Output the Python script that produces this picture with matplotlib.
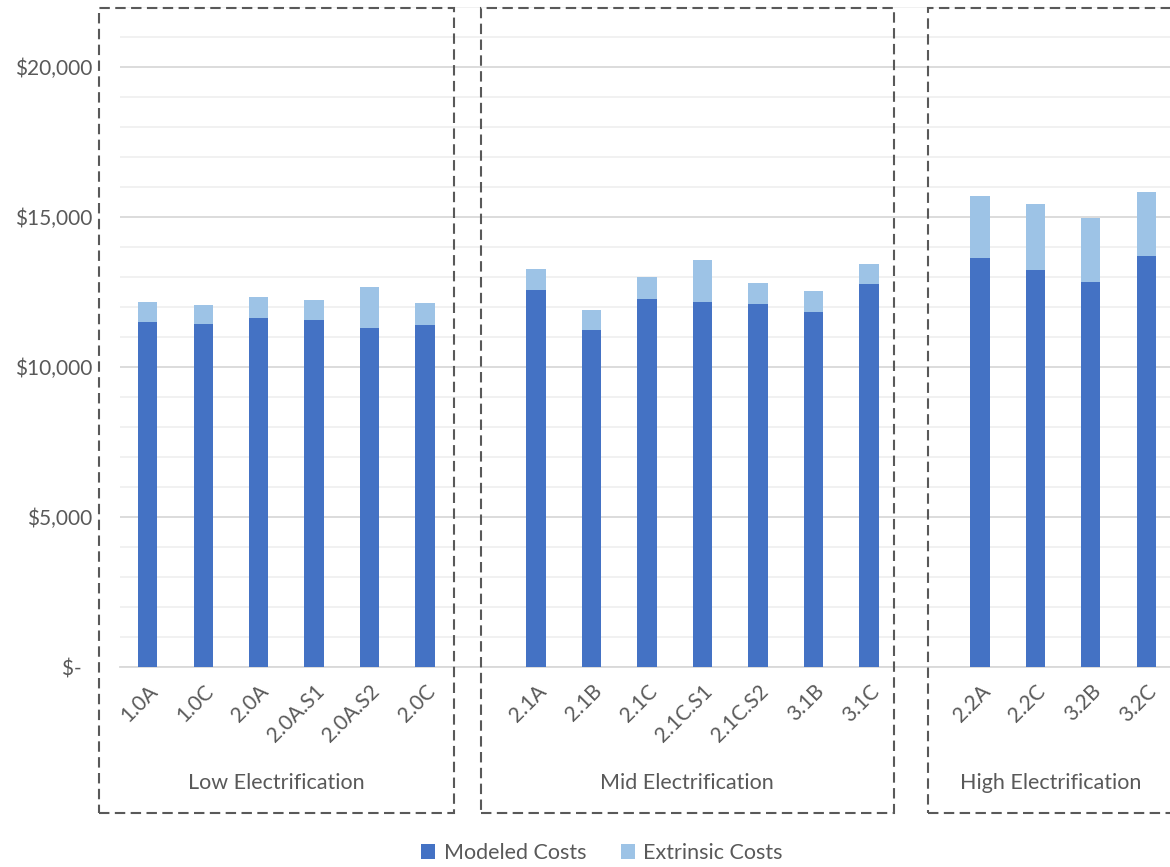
import numpy as np
import matplotlib.pyplot as plt
from matplotlib.patches import Rectangle
from matplotlib.ticker import MultipleLocator, FuncFormatter

# scenario data (per household cost)
low_names = ['1.0A', '1.0C', '2.0A', '2.0A.S1', '2.0A.S2', '2.0C']
low_modeled = [11500, 11430, 11630, 11570, 11300, 11400]
low_total = [12170, 12070, 12330, 12230, 12670, 12130]

mid_names = ['2.1A', '2.1B', '2.1C', '2.1C.S1', '2.1C.S2', '3.1B', '3.1C']
mid_modeled = [12570, 11230, 12270, 12170, 12100, 11830, 12770]
mid_total = [13270, 11900, 13000, 13570, 12800, 12530, 13430]

high_names = ['2.2A', '2.2C', '3.2B', '3.2C']
high_modeled = [13630, 13230, 12830, 13700]
high_total = [15700, 15430, 14970, 15830]

group_titles = ['Low Electrification', 'Mid Electrification', 'High Electrification']

plt.rcParams['font.family'] = ['Lato', 'DejaVu Sans']
txt = '#595959'

names = low_names + mid_names + high_names
modeled = np.array(low_modeled + mid_modeled + high_modeled)
extrinsic = np.array(low_total + mid_total + high_total) - modeled
# one empty slot between the groups
x = np.concatenate([np.arange(6), np.arange(7, 14), np.arange(15, 19)])

W, H = 1170, 867
fig = plt.figure(figsize=(W / 100, H / 100), dpi=100)
ax = fig.add_axes([120 / W, 1 - 667 / H, (1174 - 120) / W, (667 - 7) / H])

ax.bar(x, modeled, 0.35, color='#4472C4', label='Modeled Costs', zorder=3)
ax.bar(x, extrinsic, 0.35, bottom=modeled, color='#9DC3E6', label='Extrinsic Costs', zorder=3)

ax.set_xlim(-0.5, 18.5)
ax.set_ylim(0, 22000)
ax.yaxis.set_major_locator(MultipleLocator(5000))
ax.yaxis.set_minor_locator(MultipleLocator(1000))
ax.yaxis.set_major_formatter(FuncFormatter(lambda v, p: '$-  ' if v == 0 else f'${v:,.0f}'))
ax.grid(axis='y', which='major', color='#D9D9D9', lw=1.3, zorder=0)
ax.grid(axis='y', which='minor', color='#EDEDED', lw=1.1, zorder=0)
ax.set_axisbelow(True)
for s in ['top', 'right', 'left']:
    ax.spines[s].set_visible(False)
ax.spines['bottom'].set_color('#D9D9D9')
ax.spines['bottom'].set_linewidth(1.3)

ax.set_xticks(x)
ax.set_xticklabels(names, rotation=45, ha='right', rotation_mode='anchor')
ax.tick_params(axis='x', length=0, pad=10, labelsize=15, labelcolor=txt)
ax.tick_params(axis='y', which='both', length=0, pad=20, labelsize=15, labelcolor=txt)

# dashed group boxes and titles (pixel positions of the original)
boxes = [(99, 454), (481, 894), (928, 1180)]
title_x = [276, 687, 1051]
for (x0, x1), t, tx in zip(boxes, group_titles, title_x):
    fig.patches.append(Rectangle((x0 / W, 1 - 813 / H), (x1 - x0) / W, (813 - 8) / H,
                                 transform=fig.transFigure, fill=False, ec='#595959',
                                 lw=1.5, ls=(0, (5, 2.6))))
    fig.text(tx / W, 1 - 783 / H, t, ha='center', va='center', fontsize=15.5, color=txt)

fig.legend(loc='center', bbox_to_anchor=(602 / W, 1 - 853 / H), ncol=2, frameon=False,
           fontsize=15.5, labelcolor=txt, handlelength=0.65, handleheight=0.65,
           handletextpad=0.4, columnspacing=1.6)

fig.savefig('out.png', dpi=100)
